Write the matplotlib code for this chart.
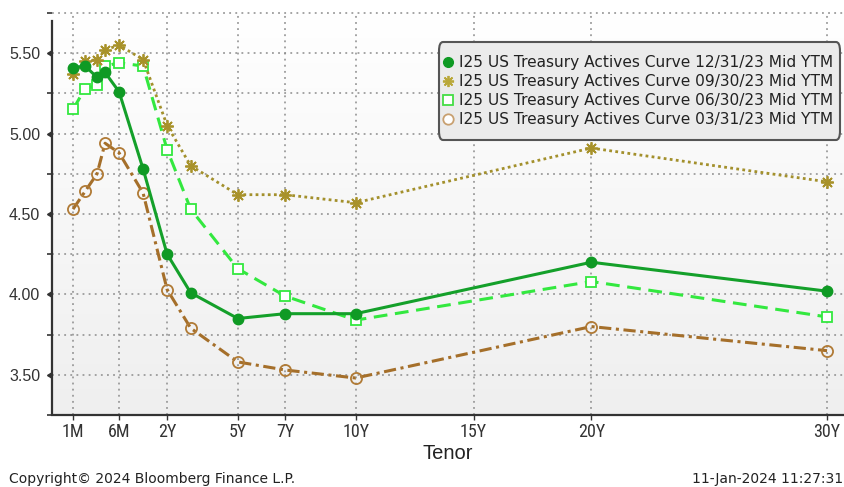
import numpy as np
import matplotlib
matplotlib.use("Agg")
import matplotlib.pyplot as plt
import matplotlib.markers as mmarkers
from matplotlib import font_manager
from matplotlib.colors import LinearSegmentedColormap
from matplotlib.lines import Line2D

# tenors in years: 1M 2M 3M 4M 6M 1Y 2Y 3Y 5Y 7Y 10Y 20Y 30Y
tenors = [1/12, 2/12, 3/12, 4/12, 0.5, 1, 2, 3, 5, 7, 10, 20, 30]

ytm_dec = [5.41, 5.42, 5.35, 5.38, 5.26, 4.78, 4.25, 4.01, 3.85, 3.88, 3.88, 4.20, 4.02]
ytm_sep = [5.37, 5.45, 5.46, 5.52, 5.55, 5.46, 5.05, 4.80, 4.62, 4.62, 4.57, 4.91, 4.70]
ytm_jun = [5.15, 5.28, 5.30, 5.42, 5.44, 5.42, 4.90, 4.53, 4.16, 3.99, 3.84, 4.08, 3.86]
ytm_mar = [4.53, 4.64, 4.75, 4.94, 4.88, 4.63, 4.03, 3.79, 3.58, 3.53, 3.48, 3.80, 3.65]

labels = [
    "I25 US Treasury Actives Curve 12/31/23 Mid YTM",
    "I25 US Treasury Actives Curve 09/30/23 Mid YTM",
    "I25 US Treasury Actives Curve 06/30/23 Mid YTM",
    "I25 US Treasury Actives Curve 03/31/23 Mid YTM",
]

tick_tenors = [1/12, 0.5, 2, 5, 7, 10, 15, 20, 30]
tick_labels = ["1M", "6M", "2Y", "5Y", "7Y", "10Y", "15Y", "20Y", "30Y"]

# bloomberg stretches the bill end of the curve, then goes linear from 2Y out
knot_t = [-0.0625, 1/12, 2/12, 3/12, 4/12, 0.5, 1, 2, 31]
knot_p = [0, 21, 33, 45, 53, 67, 91, 115, 797.7]


def fwd(x):
    return np.interp(x, knot_t, knot_p)


def inv(p):
    return np.interp(p, knot_p, knot_t)


def pick_font(names, default):
    for n in names:
        try:
            font_manager.findfont(n, fallback_to_default=False)
            return n
        except ValueError:
            pass
    return default


narrow = pick_font(["Liberation Sans Narrow", "Roboto Condensed", "Open Sans Condensed",
                    "DejaVu Sans Condensed"], None)
if narrow is None:
    narrow, narrow_size = "Liberation Sans", 11.2
else:
    narrow_size = 13
sans = pick_font(["Liberation Sans", "Arial"], "DejaVu Sans")

fig = plt.figure(figsize=(8.44, 4.87), dpi=100)
ax = fig.add_axes([52/844, 72/487, 792/844, 403/487])
ax.set_xscale("function", functions=(fwd, inv))

# soft grey wash behind the curves
bg = LinearSegmentedColormap.from_list("bg", ["#efefef", "#ffffff"])
ax.imshow(np.linspace(0, 1, 256).reshape(-1, 1), cmap=bg, extent=[0, 1, 0, 1],
          transform=ax.transAxes, aspect="auto", zorder=0, origin="lower")

ax.plot(tenors, ytm_dec, color="#14a02a", lw=2.2, ls="-", marker="o", ms=7.5,
        mfc="#0f9a24", mec="#0f9a24", zorder=5)
ax.plot(tenors, ytm_sep, color="#a3902c", lw=2.0, ls=(0, (1, 1.2)), marker=(8, 2, 0),
        ms=9, mec="#a8922a", mew=1.3, zorder=4)
ax.plot(tenors, ytm_jun, color="#33e83f", lw=2.2, ls=(0, (4.5, 2.5)), marker="s", ms=6.5,
        mfc="white", mec="#33e83f", mew=1.3, zorder=3)
ax.plot(tenors, ytm_mar, color="#a56f2a", lw=2.2, ls=(0, (4, 1.5, 1, 1.5)), marker="o", ms=8,
        mfc="none", mec="#b07a35", mew=1.3, zorder=2)

ax.set_xlim(-0.0625, 30.72)
ax.set_ylim(3.26, 5.756)

ax.set_xticks(tick_tenors, tick_labels)
ax.xaxis.set_minor_locator(matplotlib.ticker.NullLocator())
ax.set_yticks([3.5, 4.0, 4.5, 5.0, 5.5], ["3.50", "4.00", "4.50", "5.00", "5.50"])
ax.set_yticks([3.25, 3.75, 4.25, 4.75, 5.25, 5.75], minor=True)

ax.grid(True, which="both", axis="y", color="#8c8c8c", ls=(0, (1.2, 2.8)), lw=1.1)
ax.grid(True, which="major", axis="x", color="#8c8c8c", ls=(0, (1.2, 2.8)), lw=1.1)
ax.set_axisbelow(True)

for side in ["top", "right"]:
    ax.spines[side].set_visible(False)
ax.spines["left"].set_color("#333333")
ax.spines["left"].set_linewidth(1.6)
ax.spines["left"].set_bounds(3.26, 5.70)
ax.spines["bottom"].set_color("#333333")
ax.spines["bottom"].set_linewidth(1.6)

ax.tick_params(axis="x", direction="out", length=3.5, width=1, color="#333333", pad=2.5,
               labelfontfamily=narrow, labelsize=narrow_size, labelcolor="#333333")
ax.tick_params(axis="y", which="major", length=6, width=1, color="#333333", pad=2.5,
               labelfontfamily=sans, labelsize=11.5, labelcolor="#333333")
ax.tick_params(axis="y", which="minor", length=3.5, width=1.2, color="#333333")

ax.set_xlabel("Tenor", family=sans, fontsize=14.5, color="#222222", labelpad=2)

handles = [
    Line2D([], [], ls="none", marker="o", ms=7, mfc="#0f9a24", mec="#0f9a24"),
    Line2D([], [], ls="none", marker=(8, 2, 0), ms=8, mec="#b9a83a", mew=1.3),
    Line2D([], [], ls="none", marker="s", ms=6.5, mfc="white", mec="#44dd44", mew=1.3),
    Line2D([], [], ls="none", marker="o", ms=7.5, mfc="white", mec="#c8a070", mew=1.3),
]
leg = ax.legend(handles, labels, loc="upper right", bbox_to_anchor=(0.989, 0.898),
                prop={"family": "DejaVu Sans", "size": 11.1}, handlelength=0.3,
                handletextpad=0.55, labelspacing=0.25, borderpad=0.15, borderaxespad=0,
                fancybox=True, framealpha=1, facecolor="#ebebeb", edgecolor="#555555")
frame = leg.get_frame()
frame.set_linewidth(1.5)
# taller padding above/below the rows than at the sides
frame.set_boxstyle("round", pad=0.3, rounding_size=0.25)
frame.set_mutation_aspect(2.4)
leg.set_zorder(10)
for t in leg.get_texts():
    t.set_color("#222222")

fig.text(9/844, 4/487, "Copyright\u00a9 2024 Bloomberg Finance L.P.", family="DejaVu Sans",
         fontsize=10, color="#222222", va="baseline", ha="left")
fig.text(843/844, 4/487, "11-Jan-2024 11:27:31", family="DejaVu Sans",
         fontsize=10, color="#222222", va="baseline", ha="right")

# arrow-head ticks on the value axis
for tk in ax.yaxis.get_major_ticks():
    tk.tick1line.set_marker(mmarkers.CARETLEFTBASE)
    tk.tick1line.set_markersize(5)

fig.savefig("out.png", dpi=100, facecolor="white")
